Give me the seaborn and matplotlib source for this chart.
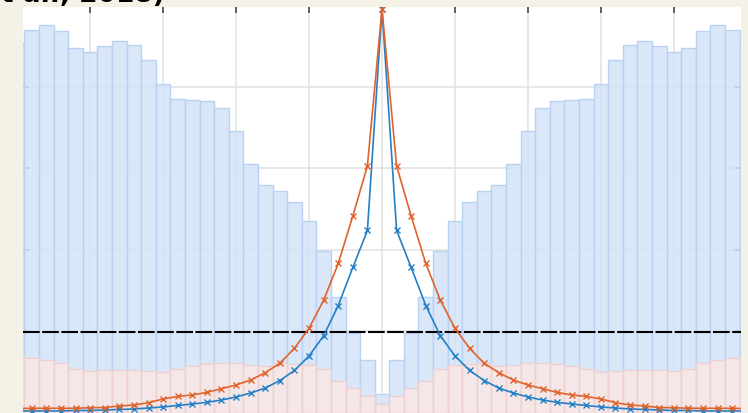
import numpy as np
import matplotlib
matplotlib.use("Agg")
import matplotlib.pyplot as plt
import seaborn as sns

# ---------------- data ----------------
# bin centres (bin width 0.2), k = -25 .. 25
bin_centers = [round(k * 0.2, 1) for k in range(-25, 26)]

blue_hist = [4.53, 4.69, 4.76, 4.68, 4.47, 4.42, 4.50, 4.56, 4.51, 4.33,
             4.03, 3.85, 3.84, 3.82, 3.74, 3.46, 3.05, 2.79, 2.72, 2.59,
             2.35, 1.99, 1.42, 0.98, 0.65, 0.23,
             0.65, 0.98, 1.42, 1.99, 2.35, 2.59, 2.72, 2.79, 3.05, 3.46,
             3.74, 3.82, 3.84, 3.85, 4.03, 4.33, 4.51, 4.56, 4.50, 4.42,
             4.47, 4.68, 4.76, 4.69, 4.53]

pink_hist = [0.69, 0.67, 0.65, 0.61, 0.54, 0.52, 0.53, 0.53, 0.53, 0.52,
             0.50, 0.54, 0.58, 0.60, 0.61, 0.61, 0.59, 0.58, 0.61, 0.60,
             0.59, 0.54, 0.39, 0.31, 0.21, 0.11,
             0.21, 0.31, 0.39, 0.54, 0.59, 0.60, 0.61, 0.58, 0.59, 0.61,
             0.61, 0.60, 0.58, 0.54, 0.50, 0.52, 0.53, 0.53, 0.53, 0.52,
             0.54, 0.61, 0.65, 0.67, 0.69]

orange_curve = [0.055, 0.058, 0.058, 0.058, 0.058, 0.065, 0.067, 0.086, 0.098, 0.126,
                0.172, 0.203, 0.221, 0.252, 0.298, 0.343, 0.404, 0.494, 0.609, 0.793,
                1.038, 1.381, 1.832, 2.414, 3.027, 4.95,
                3.027, 2.414, 1.832, 1.381, 1.038, 0.793, 0.609, 0.494, 0.404, 0.343,
                0.298, 0.252, 0.221, 0.203, 0.172, 0.126, 0.098, 0.086, 0.067, 0.065,
                0.058, 0.058, 0.058, 0.058, 0.055]

blue_curve = [0.025, 0.025, 0.025, 0.025, 0.031, 0.031, 0.037, 0.043, 0.049, 0.061,
              0.074, 0.092, 0.110, 0.131, 0.159, 0.196, 0.245, 0.306, 0.398, 0.521,
              0.699, 0.946, 1.317, 1.783, 2.237, 4.95,
              2.237, 1.783, 1.317, 0.946, 0.699, 0.521, 0.398, 0.306, 0.245, 0.196,
              0.159, 0.131, 0.110, 0.092, 0.074, 0.061, 0.049, 0.043, 0.037, 0.031,
              0.031, 0.025, 0.025, 0.025, 0.025]

threshold = 0.99
x_ticks = [-4, -3, -2, -1, 0, 1, 2, 3, 4]
y_ticks = [1, 2, 3, 4]
title_text = "t al., 2018)"

# ---------------- figure ----------------
sns.set_theme(style="white")
plt.rcParams['font.family'] = ['DejaVu Sans']

BG = "#f4f1e6"
fig = plt.figure(figsize=(7.48, 4.14), dpi=100, facecolor=BG)
ax = fig.add_axes([23 / 748, 0.0, 718 / 748, 406 / 414])
ax.set_facecolor("white")

half = 0.1
edges = [c - half for c in bin_centers] + [bin_centers[-1] + half]

sns.histplot(x=bin_centers, weights=blue_hist, bins=edges, stat="count",
             color="#d3e3f8", alpha=0.85, edgecolor="#b9d1f2", linewidth=1.0,
             ax=ax, zorder=1)
sns.histplot(x=bin_centers, weights=pink_hist, bins=edges, stat="count",
             color="#fbe8e4", alpha=0.85, edgecolor="#efd0d0", linewidth=1.0,
             ax=ax, zorder=2)

ax.axhline(threshold, color="black", lw=1.5, dashes=(8, 1.2), zorder=3)

sns.lineplot(x=bin_centers, y=blue_curve, color="#2480c6", marker="x",
             markersize=5, markeredgewidth=1.0, markeredgecolor="#2480c6",
             linewidth=1.2, ax=ax, zorder=4)
sns.lineplot(x=bin_centers, y=orange_curve, color="#e0632c", marker="x",
             markersize=5, markeredgewidth=1.0, markeredgecolor="#e0632c",
             linewidth=1.2, ax=ax, zorder=5)

ax.set_xlim(-4.92, 4.92)
ax.set_ylim(0, 4.975)
ax.set_xticks(x_ticks)
ax.set_yticks(y_ticks)
ax.set_xticklabels([])
ax.set_yticklabels([])
ax.set_xlabel("")
ax.set_ylabel("")
ax.grid(True, color="#e2e2e2", linewidth=1.1)
ax.set_axisbelow(True)
ax.tick_params(axis="both", which="both", direction="in", length=4.5, width=1.3,
               color="#555555", top=True, bottom=True, left=True, right=True)
for s in ax.spines.values():
    s.set_visible(False)

fig.text(1 / 748, 1 - 2.5 / 414, title_text, ha="left", va="baseline",
         fontsize=19, fontweight="bold", color="black")

fig.savefig("out.png", dpi=100, facecolor=BG)
